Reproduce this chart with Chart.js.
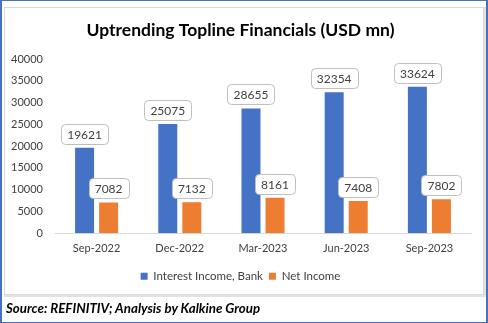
<!DOCTYPE html>
<html><head><meta charset="utf-8">
<script src="https://cdn.jsdelivr.net/npm/chart.js@4"></script>
<style>
html,body{margin:0;padding:0;background:#fff;}
#wrap{position:relative;width:488px;height:323px;overflow:hidden;}
#outer{position:absolute;left:0;top:0;width:484px;height:321px;border-left:2px solid #4472C4;border-right:2px solid #4472C4;border-top:1px solid #4472C4;border-bottom:1px solid #4472C4;box-sizing:content-box;}
#inner{position:absolute;left:4px;top:7px;width:478px;height:286px;border:1px solid #d9d9d9;box-shadow:1px 1px 0 1px #e2e2e2;}
#c{position:absolute;left:0;top:0;}
#src{position:absolute;left:6px;top:300px;font-family:Lato,sans-serif;font-weight:bold;font-style:italic;font-size:13.3px;color:#000;white-space:nowrap;}
</style></head><body>
<div id="wrap">
<div id="outer"></div>
<div id="inner"></div>
<canvas id="c" width="488" height="323"></canvas>
<div id="src">Source: REFINITIV; Analysis by Kalkine Group</div>
</div>
<script>
const categories = ["Sep-2022","Dec-2022","Mar-2023","Jun-2023","Sep-2023"];
const interestIncome = [19621,25075,28655,32354,33624];
const netIncome = [7082,7132,8161,7408,7802];
const yTicks = [0,5000,10000,15000,20000,25000,30000,35000,40000];

const labelPlugin = {
  id:'boxLabels',
  afterDatasetsDraw(chart){
    const ctx = chart.ctx;
    ctx.save();
    ctx.font = '12px Lato';
    ctx.textAlign='center';
    ctx.textBaseline='middle';
    chart.data.datasets.forEach((ds,di)=>{
      const meta = chart.getDatasetMeta(di);
      meta.data.forEach((bar,i)=>{
        const txt = String(ds.data[i]);
        const w = Math.round(ctx.measureText(txt).width + 12);
        const h = 20;
        const x = Math.round(bar.x - w/2);
        const y = Math.round(bar.y - 4 - h);
        ctx.beginPath();
        ctx.roundRect(x+0.5,y+0.5,w,h,4);
        ctx.fillStyle='#fff';
        ctx.fill();
        ctx.strokeStyle='#bfbfbf';
        ctx.lineWidth=1;
        ctx.stroke();
        ctx.fillStyle='#404040';
        ctx.fillText(txt, bar.x, y+h/2+1);
      });
    });
    ctx.restore();
  }
};

new Chart(document.getElementById('c'),{
  type:'bar',
  data:{
    labels:categories,
    datasets:[
      {label:'Interest Income, Bank',data:interestIncome,backgroundColor:'#4472C4',categoryPercentage:0.578,barPercentage:0.79},
      {label:'Net Income',data:netIncome,backgroundColor:'#ED7D31',categoryPercentage:0.578,barPercentage:0.79}
    ]
  },
  options:{
    responsive:false,
    animation:false,
    layout:{padding:{left:10,right:17,top:0,bottom:31}},
    plugins:{
      title:{display:true,text:'Uptrending Topline Financials (USD mn)',color:'#000',font:{family:'Lato',size:17.5,weight:'bold'},padding:{top:20,bottom:18}},
      legend:{position:'bottom',labels:{boxWidth:7,boxHeight:7,color:'#404040',font:{family:'Lato',size:11.5},padding:6}},
      tooltip:{enabled:false}
    },
    scales:{
      x:{grid:{display:false,drawTicks:false},border:{color:'#d9d9d9'},ticks:{color:'#404040',font:{family:'Lato',size:11},padding:9}},
      y:{min:0,max:40000,afterBuildTicks(s){s.ticks=yTicks.map(v=>({value:v}));},afterFit(s){s.width=45;},grid:{display:false,drawTicks:false},border:{display:false},ticks:{color:'#404040',font:{family:'Lato',size:11},padding:12,callback:(v)=>String(v)}}
    }
  },
  plugins:[labelPlugin]
});
</script>
</body></html>
